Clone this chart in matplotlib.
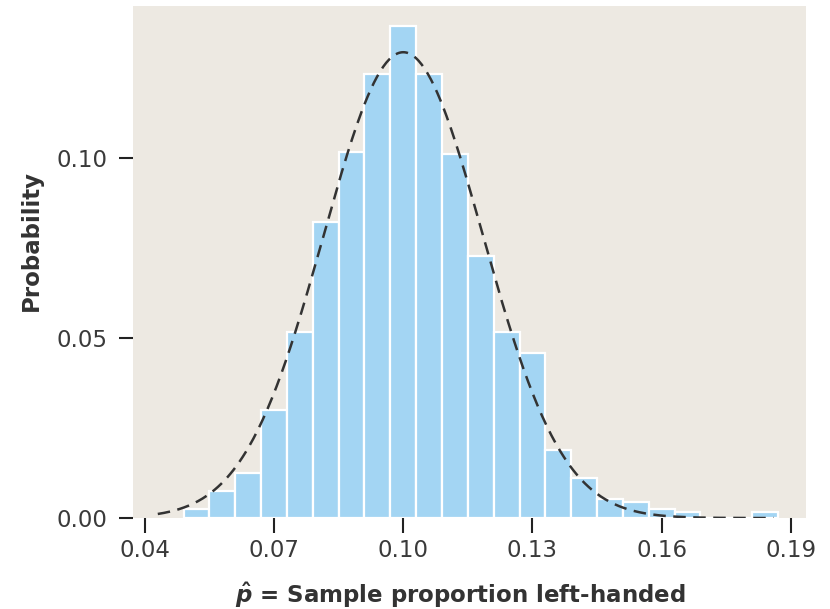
import matplotlib
matplotlib.use('Agg')
import numpy as np
import matplotlib.pyplot as plt

# sample proportion bins (centres) and observed probabilities
p_centres = [0.052, 0.058, 0.064, 0.070, 0.076, 0.082, 0.088, 0.094, 0.100,
             0.106, 0.112, 0.118, 0.124, 0.130, 0.136, 0.142, 0.148, 0.154,
             0.160, 0.166, 0.172, 0.178, 0.184]
probs = [0.0025, 0.0075, 0.0125, 0.0300, 0.0517, 0.0822, 0.1017, 0.1233, 0.1367,
         0.1233, 0.1011, 0.0728, 0.0517, 0.0458, 0.0189, 0.0111, 0.0053, 0.0044,
         0.0025, 0.0017, 0.0, 0.0, 0.0017]
bin_width = 0.006

# normal approximation
mu = 0.10
sigma = 0.0185
curve_lo, curve_hi = 0.043, 0.186

xticks = [0.04, 0.07, 0.10, 0.13, 0.16, 0.19]
yticks = [0.00, 0.05, 0.10]

plt.rcParams['font.family'] = 'DejaVu Sans'
plt.rcParams['mathtext.fontset'] = 'custom'
plt.rcParams['mathtext.it'] = 'DejaVu Sans:italic:bold'
plt.rcParams['mathtext.rm'] = 'DejaVu Sans:bold'

fig = plt.figure(figsize=(8.3, 6.09), dpi=100)
ax = fig.add_axes([0.160, 0.1494, 0.811, 0.8406])
ax.set_facecolor('#EDE9E2')

ax.bar(p_centres, probs, width=bin_width, color='#A3D5F3',
       edgecolor='white', linewidth=1.6, zorder=2)

xs = np.linspace(curve_lo, curve_hi, 400)
ys = bin_width * np.exp(-0.5 * ((xs - mu) / sigma) ** 2) / (sigma * np.sqrt(2 * np.pi))
ax.plot(xs, ys, color='#333333', linewidth=1.8, dashes=(5, 3), zorder=3)

ax.set_xlim(0.0372, 0.1935)
ax.set_ylim(0, 0.1422)
ax.set_xticks(xticks)
ax.set_xticklabels(['%.2f' % t for t in xticks])
ax.set_yticks(yticks)
ax.set_yticklabels(['%.2f' % t for t in yticks])

for s in ax.spines.values():
    s.set_visible(False)

ax.tick_params(axis='x', direction='out', length=11, width=1.5, color='#222222',
               labelsize=16.5, labelcolor='#3a3a3a', pad=4)
ax.tick_params(axis='y', direction='out', length=10, width=1.5, color='#222222',
               labelsize=16.5, labelcolor='#3a3a3a', pad=8)

ax.set_ylabel('Probability', fontsize=16.5, fontweight='bold', color='#333333')
ax.yaxis.set_label_coords(-0.134, 0.543)
ax.set_xlabel(r'$\hat{p}$ = Sample proportion left-handed', fontsize=16.5,
              fontweight='bold', color='#333333')
ax.xaxis.set_label_coords(0.487, -0.123)

fig.savefig('out.png', dpi=100)
